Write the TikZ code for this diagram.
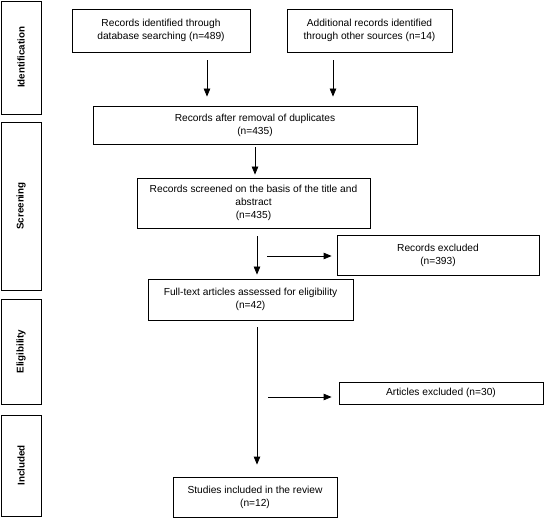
\documentclass[tikz,border=0pt]{standalone}
\usepackage{fontspec}
\setmainfont{Liberation Sans}
\usetikzlibrary{arrows.meta,calc,positioning}

\begin{document}
\begin{tikzpicture}[x=1pt,y=-1pt,
    flowbox/.style={draw,line width=0.8pt,inner sep=2pt,align=center,
      font=\fontsize{10.2}{13.2}\selectfont},
    phasebox/.style={draw,line width=0.8pt,minimum width=40pt,
      rotate=90,font=\bfseries\fontsize{9.8}{12}\selectfont},
    arr/.style={-{Triangle[length=8pt,width=6.5pt]},line width=0.8pt}]
  \useasboundingbox (0,0) rectangle (546,518);

  % phase labels
  \node[phasebox,minimum width=113pt,minimum height=40pt]
    (ident) at (21,57.5) {Identification};
  \node[phasebox,minimum width=168pt,minimum height=40pt]
    (screen) at (21,206) {Screening};
  \node[phasebox,minimum width=105pt,minimum height=40pt]
    (elig) at (21,351.5) {Eligibility};
  \node[phasebox,minimum width=101pt,minimum height=40pt]
    (incl) at (21,465.5) {Included};

  % boxes
  \node[flowbox,minimum width=178pt,minimum height=43pt]
    (dbrec) at (161,30.5)
    {Records identified through\\database searching (n=489)};
  \node[flowbox,minimum width=165pt,minimum height=43pt]
    (other) at (369.5,30.5)
    {Additional records identified\\through other sources (n=14)};
  \node[flowbox,minimum width=324pt,minimum height=38pt]
    (dedup) at (255,125)
    {Records after removal of duplicates\\(n=435)};
  \node[flowbox,minimum width=233pt,minimum height=50pt]
    (screened) at (253.5,203)
    {Records screened on the basis of the title and\\abstract\\(n=435)};
  \node[flowbox,minimum width=205pt,minimum height=41pt]
    (fulltext) at (250.5,299.5)
    {Full-text articles assessed for eligibility\\(n=42)};
  \node[flowbox,minimum width=202pt,minimum height=40pt]
    (recex) at (438,255)
    {Records excluded\\(n=393)};
  \node[flowbox,minimum width=204pt,minimum height=22pt]
    (artex) at (441,393)
    {Articles excluded (n=30)};
  \node[flowbox,minimum width=164pt,minimum height=40pt]
    (studies) at (255,497)
    {Studies included in the review\\(n=12)};

  % arrow columns
  \coordinate (c1) at (207,0);
  \coordinate (c2) at (333,0);
  \coordinate (c3) at (255,0);
  \coordinate (c4) at (257,0);
  \coordinate (s1) at (267,256);
  \coordinate (s2) at (268,397);

  \draw[arr,shorten <=8pt,shorten >=9pt] (dbrec.south -| c1) -- (dedup.north -| c1);
  \draw[arr,shorten <=8pt,shorten >=9pt] (other.south -| c2) -- (dedup.north -| c2);
  \draw[arr,shorten <=3pt,shorten >=3pt] (dedup.south -| c3) -- (screened.north -| c3);
  \draw[arr,shorten <=8pt,shorten >=4pt] (screened.south -| c4) -- (fulltext.north -| c4);
  \draw[arr,shorten <=7pt,shorten >=12pt] (fulltext.south -| c4) -- (studies.north -| c4);
  \draw[arr,shorten >=5pt] (s1) -- (s1 -| recex.west);
  \draw[arr,shorten >=7pt] (s2) -- (s2 -| artex.west);
\end{tikzpicture}
\end{document}
